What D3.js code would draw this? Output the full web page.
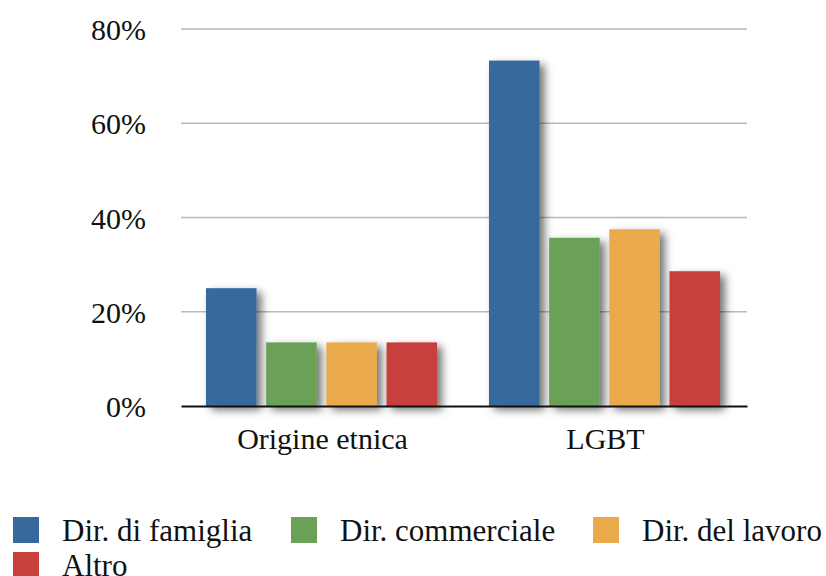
<!DOCTYPE html>
<html>
<head>
<meta charset="utf-8">
<script src="https://cdn.jsdelivr.net/npm/d3@7"></script>
<style>
  body { margin: 0; background: #fff; }
  svg text { font-family: "Liberation Serif", "DejaVu Serif", "Times New Roman", Times, serif !important; fill: #111; }
</style>
</head>
<body>
<div class="vis"></div>
<script>
const categories = ["Origine etnica", "LGBT"];
const seriesNames = ["Dir. di famiglia", "Dir. commerciale", "Dir. del lavoro", "Altro"];
const famiglia = [25.0, 73.3];
const commerciale = [13.5, 35.7];
const lavoro = [13.5, 37.5];
const altro = [13.5, 28.6];
const yTicks = [0, 20, 40, 60, 80];
const colors = ["#37699d", "#6aa157", "#eaaa4b", "#c8403c"];

const W = 826, H = 576;
const margin = { top: 29, left: 181, right: 79, bottom: 170 };
const width = W - margin.left - margin.right;
const height = H - margin.top - margin.bottom;
const serif = "'Liberation Serif', 'DejaVu Serif', serif";

const seriesValues = [famiglia, commerciale, lavoro, altro];
const data = categories.map((c, i) => ({
  cat: c,
  values: seriesNames.map((s, j) => ({ name: s, value: seriesValues[j][i], idx: j }))
}));

const svg = d3.select(".vis").append("svg").attr("width", W).attr("height", H);

const defs = svg.append("defs");
const f = defs.append("filter").attr("id", "shadow")
  .attr("x", "-20%").attr("y", "-10%").attr("width", "160%").attr("height", "130%");
f.append("feDropShadow").attr("dx", 5).attr("dy", 4).attr("stdDeviation", 4)
  .attr("flood-color", "#000").attr("flood-opacity", 0.55);

const g = svg.append("g").attr("transform", "translate(" + margin.left + "," + margin.top + ")");

const x0 = d3.scaleBand().domain(categories).range([0, width]).paddingInner(0).paddingOuter(0);
const x1 = d3.scaleBand().domain(seriesNames).range([25, x0.bandwidth() - 27]).paddingInner(0.16);
const y = d3.scaleLinear().domain([0, 80]).range([height, 0]);

// gridlines
g.selectAll(".grid").data(yTicks.filter(d => d > 0)).enter()
  .append("line")
  .attr("x1", 0).attr("x2", width)
  .attr("y1", d => y(d)).attr("y2", d => y(d))
  .attr("stroke", "#b9b9b9").attr("stroke-width", 1.5);

// y labels
const yAxis = g.append("g").call(d3.axisLeft(y).tickValues(yTicks).tickFormat(d => d + "%").tickSize(0).tickPadding(35));
yAxis.attr("font-family", serif);
yAxis.select(".domain").remove();
yAxis.selectAll("text").attr("font-size", 30).attr("fill", "#111").attr("dy", "0.35em");

// bars
const groups = g.selectAll(".grp").data(data).enter().append("g")
  .attr("transform", d => "translate(" + x0(d.cat) + ",0)");
groups.selectAll("rect").data(d => d.values).enter().append("rect")
  .attr("x", d => x1(d.name))
  .attr("width", x1.bandwidth())
  .attr("y", d => y(d.value))
  .attr("height", d => y(0) - y(d.value))
  .attr("fill", d => colors[d.idx])
  .attr("filter", "url(#shadow)");

// x axis
const xAxis = g.append("g").attr("transform", "translate(0," + height + ")")
  .call(d3.axisBottom(x0).tickSize(0).tickPadding(22));
xAxis.attr("font-family", serif);
xAxis.select(".domain").attr("stroke", "#111").attr("stroke-width", 2);
xAxis.selectAll("text").attr("font-size", 30).attr("fill", "#111");

// legend
const legPos = [[13, 517], [291, 517], [593, 517], [13, 552]];
const leg = svg.selectAll(".leg").data(seriesNames).enter().append("g")
  .attr("transform", (d, i) => "translate(" + legPos[i][0] + "," + legPos[i][1] + ")");
leg.append("rect").attr("width", 26).attr("height", 26).attr("fill", (d, i) => colors[i]);
leg.append("text").attr("x", 49).attr("y", 24).attr("font-size", 31)
  .attr("font-family", serif).text(d => d);
</script>
</body>
</html>
